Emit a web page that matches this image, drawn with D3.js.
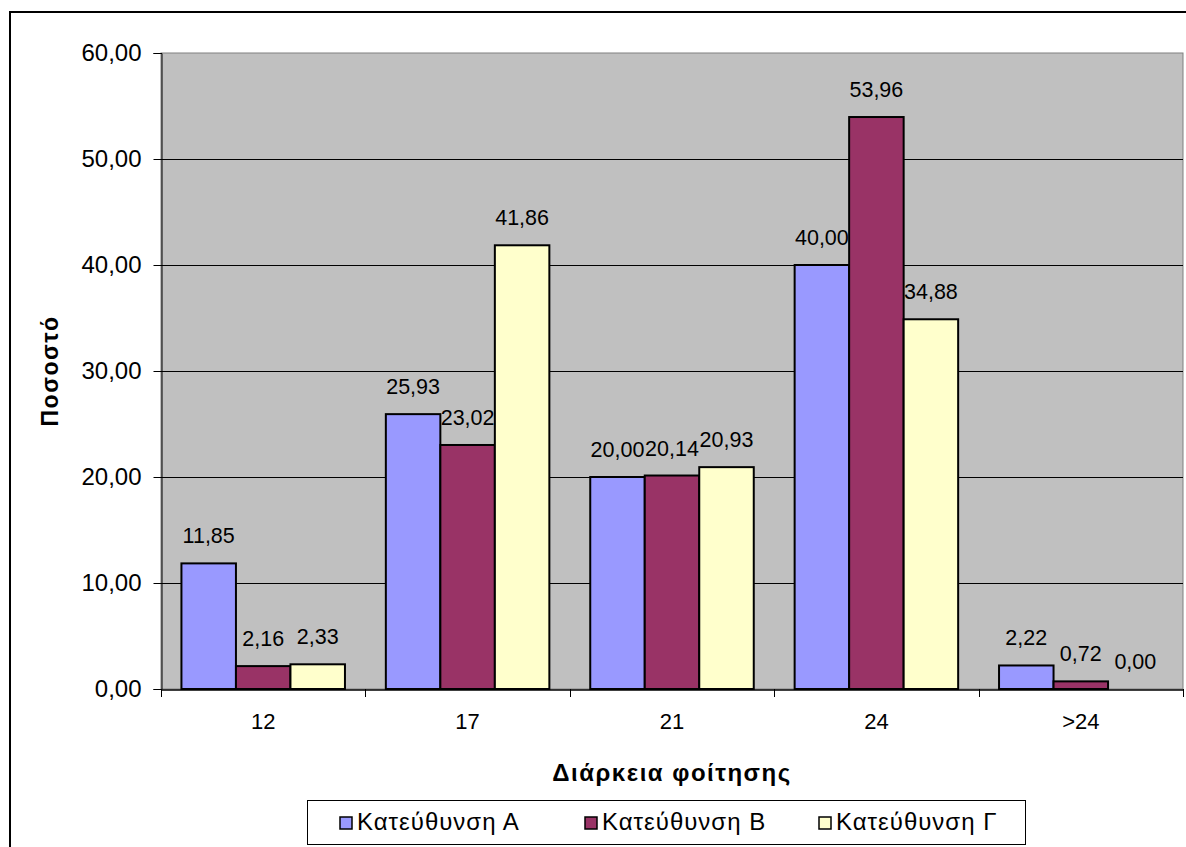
<!DOCTYPE html>
<html><head><meta charset="utf-8">
<script src="https://cdn.jsdelivr.net/npm/d3@7"></script>
<style>body{margin:0;background:#fff}svg{display:block}text{font-family:"Liberation Sans",Arial,sans-serif;fill:#000}</style>
</head><body>
<svg id="c" width="1186" height="847"></svg>
<script>
const categories = ["12", "17", "21", "24", ">24"];
const seriesNames = ["Κατεύθυνση Α", "Κατεύθυνση Β", "Κατεύθυνση Γ"];
const seriesA = [11.85, 25.93, 20.00, 40.00, 2.22];
const seriesB = [2.16, 23.02, 20.14, 53.96, 0.72];
const seriesC = [2.33, 41.86, 20.93, 34.88, 0.00];
const yTicks = [0, 10, 20, 30, 40, 50, 60];
const colors = ["#9999FF", "#993366", "#FFFFCC"];
const xTitle = "Διάρκεια φοίτησης";
const yTitle = "Ποσοστό";

const series = [seriesA, seriesB, seriesC];
const svg = d3.select("#c");
const L = 161, R = 1183, T = 53, B = 689;
const fmt = v => d3.format(".2f")(v).replace(".", ",");

// outer border
svg.append("rect").attr("x", 10).attr("y", 12).attr("width", 1200).attr("height", 900)
  .attr("fill", "#fff").attr("stroke", "#000").attr("stroke-width", 2);

const x0 = d3.scaleBand().domain(categories).range([L, R]).paddingInner(0.75/3.75).paddingOuter(0.75/3.75/2);
const xOuter = d3.scaleBand().domain(categories).range([L, R]);
const x1 = d3.scaleBand().domain([0,1,2]).range([0, x0.bandwidth()]);
const y = d3.scaleLinear().domain([0, 60]).range([B, T]);

// plot bg
svg.append("rect").attr("x", L).attr("y", T).attr("width", R - L).attr("height", B - T)
  .attr("fill", "#C0C0C0").attr("stroke", "#808080").attr("stroke-width", 1);

// gridlines
svg.append("g").selectAll("line").data(yTicks.filter(d => d > 0 && d < 60)).join("line")
  .attr("x1", L).attr("x2", R).attr("y1", d => Math.round(y(d)) + 0.5).attr("y2", d => Math.round(y(d)) + 0.5)
  .attr("stroke", "#000").attr("stroke-width", 1);

// y axis
const yAxis = d3.axisLeft(y).tickValues(yTicks).tickFormat(fmt).tickSize(8).tickPadding(12);
const gy = svg.append("g").attr("transform", `translate(${L + 0.5},0)`).call(yAxis);
gy.select(".domain").attr("stroke", "#000");
gy.selectAll("line").attr("stroke", "#000");
gy.selectAll("text").attr("font-size", 24).attr("font-family", "Liberation Sans, Arial, sans-serif").attr("fill", "#000");

// bars
categories.forEach((c, i) => {
  series.forEach((s, j) => {
    const v = s[i];
    const bx = x0(c) + x1(j);
    if (v > 0) {
      svg.append("rect").attr("x", bx).attr("y", y(v)).attr("width", x1.bandwidth()).attr("height", B - y(v))
        .attr("fill", colors[j]).attr("stroke", "#000").attr("stroke-width", 2);
    }
    svg.append("text").attr("x", bx + x1.bandwidth() / 2).attr("y", y(v) - 20)
      .attr("text-anchor", "middle").attr("font-size", 21.5).text(fmt(v));
  });
});

// x axis
const xAxis = d3.axisBottom(xOuter).tickSize(0).tickPadding(24);
const gx = svg.append("g").attr("transform", `translate(0,${B + 0.5})`).call(xAxis);
gx.select(".domain").attr("stroke", "#000").attr("stroke-width", 1.5);
gx.selectAll("text").attr("font-size", 22).attr("font-family", "Liberation Sans, Arial, sans-serif").attr("fill", "#000");
// category separator ticks
svg.append("g").selectAll("line").data(d3.range(categories.length + 1)).join("line")
  .attr("x1", i => Math.round(L + i * xOuter.step()) + 0.5).attr("x2", i => Math.round(L + i * xOuter.step()) + 0.5)
  .attr("y1", B).attr("y2", B + 8).attr("stroke", "#000");

// axis titles
svg.append("text").attr("x", (L + R) / 2).attr("y", 781).attr("text-anchor", "middle")
  .attr("font-size", 24).attr("letter-spacing", 1.5).attr("font-weight", "bold").text(xTitle);
svg.append("text").attr("transform", `translate(58,${(T + B) / 2}) rotate(-90)`).attr("text-anchor", "middle")
  .attr("font-size", 23).attr("letter-spacing", 1.5).attr("font-weight", "bold").text(yTitle);

// legend
svg.append("rect").attr("x", 307.5).attr("y", 800.5).attr("width", 718).attr("height", 44)
  .attr("fill", "#fff").attr("stroke", "#000").attr("stroke-width", 1);
const legX = [340, 585, 819];
seriesNames.forEach((n, j) => {
  svg.append("rect").attr("x", legX[j]).attr("y", 817).attr("width", 12).attr("height", 12)
    .attr("fill", colors[j]).attr("stroke", "#000").attr("stroke-width", 1.5);
  svg.append("text").attr("x", legX[j] + 17).attr("y", 830).attr("font-size", 24).attr("letter-spacing", 1).text(n);
});
</script>
</body></html>
